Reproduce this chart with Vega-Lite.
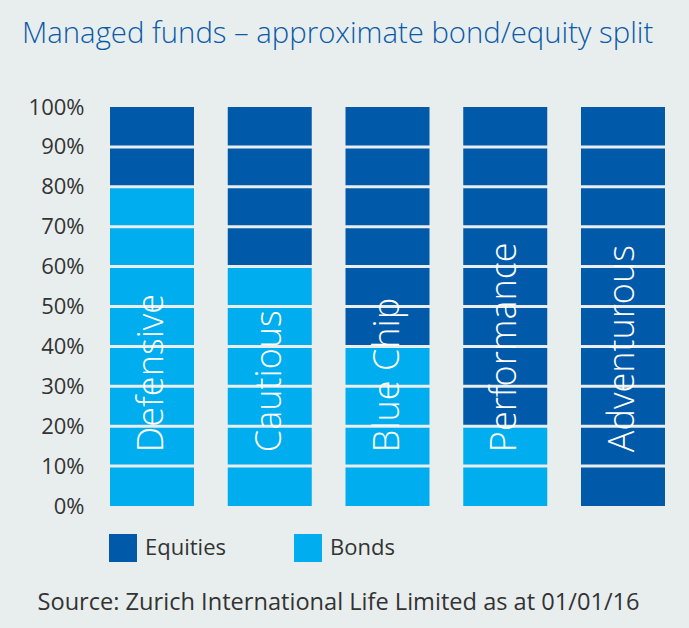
{
  "$schema": "https://vega.github.io/schema/vega-lite/v6.json",
  "width": 555,
  "height": 399,
  "autosize": {"type": "none"},
  "padding": {"left": 110, "top": 107, "right": 24, "bottom": 122},
  "background": "#e8eeee",
  "config": {
    "view": {"stroke": null},
    "axisY": {
      "labelOverlap": false,
      "grid": false,
      "ticks": false,
      "domain": false,
      "labelPadding": 26,
      "labelFontSize": 22,
      "labelFont": "Open Sans",
      "labelColor": "#333333"
    }
  },
  "title": {
    "text": "Managed funds – approximate bond/equity split",
    "anchor": "start",
    "frame": "group",
    "dx": -88,
    "offset": 24,
    "baseline": "alphabetic",
    "fontSize": 29.3,
    "font": "Open Sans",
    "fontWeight": 300,
    "color": "#0a5aa8"
  },
  "data": {
    "values": [
      {"fund": "Defensive", "type": "Bonds", "value": 0.8},
      {"fund": "Defensive", "type": "Equities", "value": 0.2},
      {"fund": "Cautious", "type": "Bonds", "value": 0.6},
      {"fund": "Cautious", "type": "Equities", "value": 0.4},
      {"fund": "Blue Chip", "type": "Bonds", "value": 0.4},
      {"fund": "Blue Chip", "type": "Equities", "value": 0.6},
      {"fund": "Performance", "type": "Bonds", "value": 0.2},
      {"fund": "Performance", "type": "Equities", "value": 0.8},
      {"fund": "Adventurous", "type": "Bonds", "value": 0.0},
      {"fund": "Adventurous", "type": "Equities", "value": 1.0}
    ]
  },
  "encoding": {
    "x": {
      "field": "fund",
      "type": "nominal",
      "sort": ["Defensive", "Cautious", "Blue Chip", "Performance", "Adventurous"],
      "scale": {"paddingInner": 0.2866, "paddingOuter": 0},
      "title": "Source: Zurich International Life Limited as at 01/01/16",
      "axis": {
        "labels": false,
        "ticks": false,
        "domain": false,
        "titleX": -73,
        "titleY": 103,
        "titleAlign": "left",
        "titleAnchor": "start",
        "titleBaseline": "alphabetic",
        "titleFontSize": 23.6,
        "titleFont": "Open Sans",
        "titleFontWeight": "normal",
        "titleColor": "#333333"
      }
    }
  },
  "layer": [
    {
      "mark": {"type": "bar"},
      "encoding": {
        "y": {
          "field": "value",
          "type": "quantitative",
          "stack": "zero",
          "title": null,
          "scale": {"domain": [0, 1]},
          "axis": {"format": ".0%", "values": [0, 0.1, 0.2, 0.3, 0.4, 0.5, 0.6, 0.7, 0.8, 0.9, 1]}
        },
        "color": {
          "field": "type",
          "type": "nominal",
          "scale": {"domain": ["Equities", "Bonds"], "range": ["#0059a9", "#00adee"]},
          "legend": {
            "orient": "none",
            "legendX": -1,
            "legendY": 427,
            "direction": "horizontal",
            "title": null,
            "symbolType": "square",
            "symbolSize": 784,
            "symbolStrokeWidth": 0,
            "symbolOpacity": 1,
            "labelFontSize": 22,
            "labelFont": "Open Sans",
            "labelColor": "#333333",
            "labelOffset": 8,
            "columnPadding": 68
          }
        },
        "order": {"field": "type", "sort": "ascending"}
      }
    },
    {
      "data": {"values": [
        {"grid": 0.1}, {"grid": 0.2}, {"grid": 0.3}, {"grid": 0.4}, {"grid": 0.5},
        {"grid": 0.6}, {"grid": 0.7}, {"grid": 0.8}, {"grid": 0.9}
      ]},
      "mark": {"type": "rule", "color": "#e8eeee", "strokeWidth": 3},
      "encoding": {
        "x": null,
        "y": {
          "field": "grid",
          "type": "quantitative",
          "title": null,
          "axis": {"format": ".0%", "values": [0, 0.1, 0.2, 0.3, 0.4, 0.5, 0.6, 0.7, 0.8, 0.9, 1]}
        }
      }
    },
    {
      "transform": [{"filter": "datum.type === 'Equities'"}],
      "mark": {
        "type": "text",
        "angle": 270,
        "align": "left",
        "baseline": "middle",
        "color": "white",
        "fontSize": 36,
        "font": "Open Sans",
        "fontWeight": 300
      },
      "encoding": {
        "y": {"datum": 0.135, "axis": {"format": ".0%", "values": [0, 0.1, 0.2, 0.3, 0.4, 0.5, 0.6, 0.7, 0.8, 0.9, 1]}},
        "text": {"field": "fund"}
      }
    }
  ]
}
